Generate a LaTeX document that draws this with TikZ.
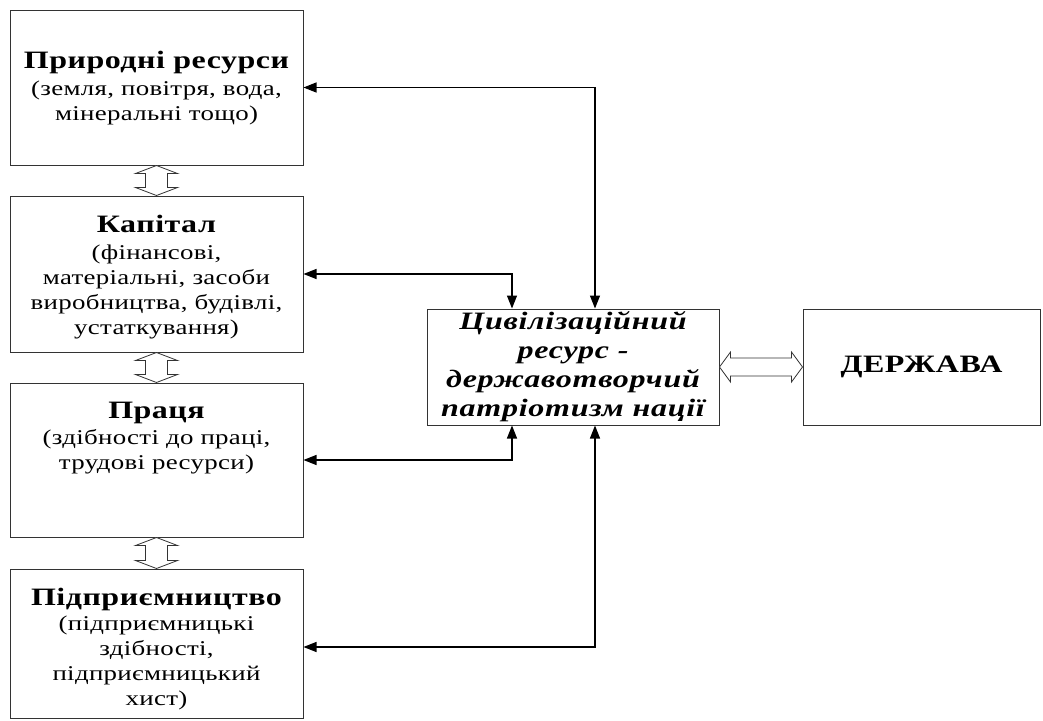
\documentclass[tikz,border=0pt]{standalone}
\usepackage{fontspec}
\setmainfont[FakeStretch=1.28]{Liberation Serif}
\usetikzlibrary{arrows.meta,calc}
\newcommand\ttlfont{\fontsize{25}{25}\selectfont\bfseries\addfontfeature{LetterSpace=2}}
\newcommand\subfont{\fontsize{21}{25}\selectfont\addfontfeature{LetterSpace=1.5}}
\begin{document}
\begin{tikzpicture}[x=1pt,y=-1pt,
  box/.style={draw=black!80, line width=1pt, inner sep=0pt, minimum width=293pt},
  txt/.style={align=center, font=\subfont, inner sep=0pt},
  conn/.style={line width=1.2pt, {Triangle[length=13pt,width=10pt]}-{Triangle[length=13pt,width=10pt]}},
  hollow/.style={draw=black!80, line width=0.8pt, fill=white, line join=miter}]
\useasboundingbox (0,0) rectangle (1043,720);
% left boxes
\node[box, minimum height=155pt] (b1) at (156.5,87.5) {};
\node[box, minimum height=156pt] (b2) at (156.5,274) {};
\node[box, minimum height=154pt] (b3) at (156.5,460) {};
\node[box, minimum height=149pt] (b4) at (156.5,643.5) {};
\node[txt] (t1) at (156.5,88) {{\ttlfont Природні ресурси}\\[2pt](земля, повітря, вода,\\мінеральні тощо)};
\node[txt] (t2) at (156.5,277) {{\ttlfont Капітал}\\[2pt](фінансові,\\матеріальні, засоби\\виробництва, будівлі,\\устаткування)};
\node[txt] (t3) at (156.5,438) {{\ttlfont Праця}\\[1pt](здібності до праці,\\трудові ресурси)};
\node[txt] (t4) at (156.5,649) {{\ttlfont Підприємництво}\\[0pt](підприємницькі\\здібності,\\підприємницький\\хист)};
% central and right boxes
\node[box, minimum width=292pt, minimum height=116pt, align=center,
      font=\fontsize{25}{29}\selectfont\bfseries\itshape\addfontfeature{LetterSpace=3}] (c) at (573,367)
      {Цивілізаційний\\ресурс -\\державотворчий\\патріотизм нації};
\node[box, minimum width=237pt, minimum height=116pt,
      font=\fontsize{25}{29}\selectfont\bfseries\addfontfeature{LetterSpace=2}] (d) at (921.5,367) {ДЕРЖАВА};
% connectors
\draw[conn] (b1.east) -| ([xshift=22pt]c.north);
\draw[conn] (b2.east) -| ([xshift=-61pt]c.north);
\draw[conn] (b3.east) -| ([xshift=-61pt]c.south);
\draw[conn] ([yshift=-3.5pt]b4.east) -| ([xshift=22pt]c.south);
% hollow double arrows between left boxes
\foreach \u/\l in {b1/b2, b2/b3, b3/b4}{
  \draw[hollow] (\u.south) -- ++(21,8) -- ++(-10,0) -- ($(\l.north)+(11,-8)$) -- ++(10,0)
    -- (\l.north) -- ++(-21,-8) -- ++(10,0) -- ($(\u.south)+(-11,8)$) -- ++(-10,0) -- cycle;
}
% hollow double arrow between c and d
\draw[hollow] (c.east) -- ++(11,-15) -- ++(0,6) -- ($(d.west)+(-11,-9)$) -- ++(0,-6)
  -- (d.west) -- ++(-11,15) -- ++(0,-6) -- ($(c.east)+(11,9)$) -- ++(0,6) -- cycle;
\end{tikzpicture}
\end{document}
